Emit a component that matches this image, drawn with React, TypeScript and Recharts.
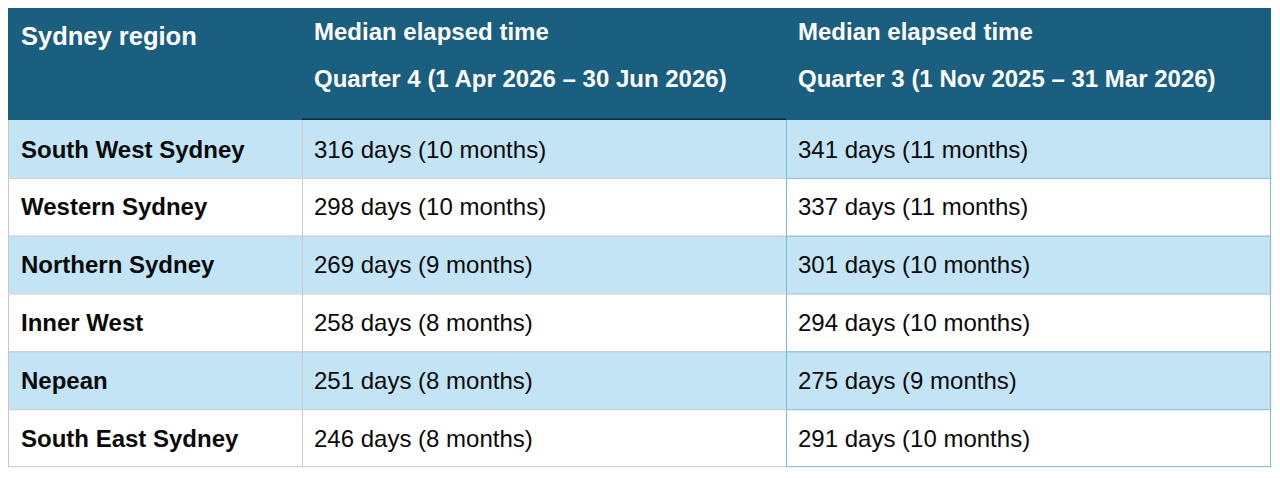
import React from "react";
import { ComposedChart, Bar, XAxis, YAxis, Customized } from "recharts";

const regions = [
  "South West Sydney",
  "Western Sydney",
  "Northern Sydney",
  "Inner West",
  "Nepean",
  "South East Sydney",
];
const q4Days = [316, 298, 269, 258, 251, 246];
const q4Months = [10, 10, 9, 8, 8, 8];
const q3Days = [341, 337, 301, 294, 275, 291];
const q3Months = [11, 11, 10, 10, 9, 10];

const regionHeader = "Sydney region";
const measureHeader = "Median elapsed time";
const q4Period = "Quarter 4 (1 Apr 2026 – 30 Jun 2026)";
const q3Period = "Quarter 3 (1 Nov 2025 – 31 Mar 2026)";

const rows = regions.map((region, i) => ({
  region,
  q4Days: q4Days[i],
  q4Months: q4Months[i],
  q3Days: q3Days[i],
  q3Months: q3Months[i],
}));

const W = 1263;
const H = 463;
const HEADER_H = 115;
const COL_X = [0, 294, 778];
const PAD = 13;

const HEADER_BG = "#1a5e80";
const ROW_BLUE = "#c3e4f5";
const GRID_GRAY = "#c8c8c8";
const GRID_BLUE = "#7db8d6";
const FONT = "'Liberation Sans', Arial, sans-serif";

const days = (d: number, m: number) => `${d} days (${m} months)`;

function HeaderRow() {
  const textProps = {
    fill: "#ffffff",
    fontWeight: 700,
    fontSize: 24,
    dominantBaseline: "central" as const,
    fontFamily: FONT,
  };
  return (
    <g>
      <rect x={0} y={0} width={W} height={HEADER_H} fill={HEADER_BG} />
      <line x1={COL_X[1]} x2={COL_X[2]} y1={0.75} y2={0.75} stroke="#0b1a22" strokeWidth={1.5} />
      <line x1={COL_X[1]} x2={COL_X[2]} y1={HEADER_H - 0.75} y2={HEADER_H - 0.75} stroke="#0e2b3a" strokeWidth={1.5} />
      <text x={PAD} y={31} {...textProps} fontSize={25.5}>{regionHeader}</text>
      <text x={COL_X[1] + 12} y={26} {...textProps}>{measureHeader}</text>
      <text x={COL_X[1] + 12} y={73} {...textProps}>{q4Period}</text>
      <text x={COL_X[2] + 12} y={26} {...textProps}>{measureHeader}</text>
      <text x={COL_X[2] + 12} y={73} {...textProps}>{q3Period}</text>
    </g>
  );
}

function RowShape(props: any) {
  const { index, payload } = props;
  const band = props.background && props.background.height ? props.background : props;
  const y = band.y;
  const h = band.height;
  const cy = y + h / 2;
  const last = index === rows.length - 1;
  const fill = index % 2 === 0 ? ROW_BLUE : "#ffffff";
  const txt = {
    fontSize: 24,
    fill: "#0a0a0a",
    dominantBaseline: "central" as const,
    fontFamily: FONT,
  };
  return (
    <g>
      <rect x={0} y={y} width={W} height={h} fill={fill} />
      {index > 0 && (
        <>
          <line x1={0} x2={COL_X[2]} y1={y + 0.5} y2={y + 0.5} stroke={GRID_GRAY} />
          <line x1={COL_X[2]} x2={W} y1={y + 0.5} y2={y + 0.5} stroke={GRID_BLUE} />
        </>
      )}
      {last && (
        <>
          <line x1={0} x2={COL_X[2]} y1={y + h - 0.5} y2={y + h - 0.5} stroke={GRID_GRAY} />
          <line x1={COL_X[2]} x2={W} y1={y + h - 0.5} y2={y + h - 0.5} stroke={GRID_BLUE} />
        </>
      )}
      <line x1={0.5} x2={0.5} y1={y} y2={y + h} stroke={GRID_GRAY} />
      <line x1={COL_X[1] + 0.5} x2={COL_X[1] + 0.5} y1={y} y2={y + h} stroke={GRID_GRAY} />
      <line x1={COL_X[2] + 0.5} x2={COL_X[2] + 0.5} y1={y} y2={y + h} stroke={GRID_BLUE} />
      <line x1={W - 0.5} x2={W - 0.5} y1={y} y2={y + h} stroke={GRID_BLUE} />
      <text x={PAD} y={cy} fontWeight={700} {...txt}>{payload.region}</text>
      <text x={COL_X[1] + 12} y={cy} {...txt}>{days(payload.q4Days, payload.q4Months)}</text>
      <text x={COL_X[2] + 12} y={cy} {...txt}>{days(payload.q3Days, payload.q3Months)}</text>
    </g>
  );
}

export default function App() {
  return (
    <div style={{ marginTop: -3, fontFamily: FONT }}>
      <ComposedChart
        width={W}
        height={H}
        data={rows}
        layout="vertical"
        margin={{ top: HEADER_H, right: 0, bottom: 1, left: 0 }}
        barCategoryGap={0}
      >
        <XAxis type="number" hide domain={[0, "dataMax"]} />
        <YAxis
          type="category"
          dataKey="region"
          width={COL_X[1]}
          tick={false}
          tickLine={false}
          axisLine={false}
        />
        <Bar dataKey="q4Days" shape={<RowShape />} isAnimationActive={false} />
        <Customized component={<HeaderRow />} />
      </ComposedChart>
    </div>
  );
}
